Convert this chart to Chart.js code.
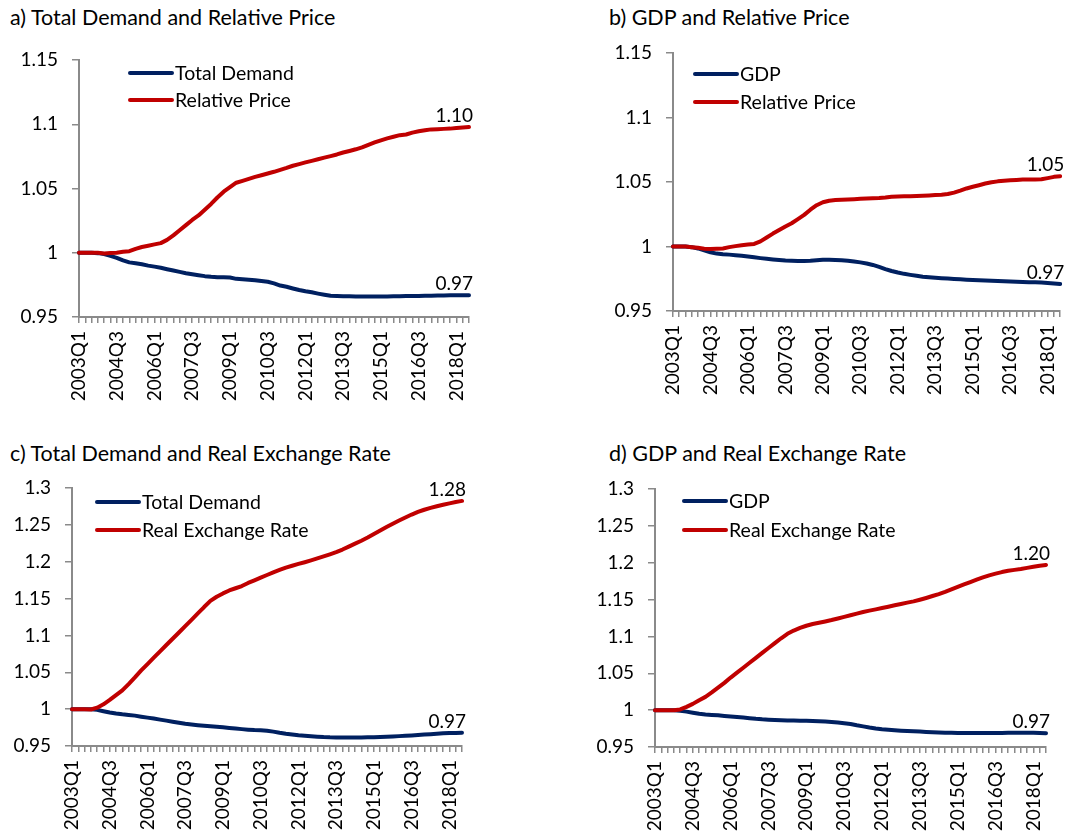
<!DOCTYPE html>
<html>
<head>
<meta charset="utf-8">
<script src="https://cdn.jsdelivr.net/npm/chart.js@4.4.1/dist/chart.umd.min.js"></script>
<style>
  body { margin: 0; background: #fff; }
  #page { position: relative; width: 1091px; height: 834px; overflow: hidden; font-family: Lato, sans-serif; }
  canvas { position: absolute; }
  .title { position: absolute; font-size: 21.5px; line-height: 1; color: #000; white-space: nowrap; }
</style>
</head>
<body>
<div id="page">
  <div class="title" style="left:10px;top:7px">a) Total Demand and Relative Price</div>
  <div class="title" style="left:609px;top:7px">b) GDP and Relative Price</div>
  <div class="title" style="left:10px;top:443px">c) Total Demand and Real Exchange Rate</div>
  <div class="title" style="left:609px;top:443px">d) GDP and Real Exchange Rate</div>
  <canvas id="chartA" width="545" height="417" style="left:0;top:0"></canvas>
  <canvas id="chartB" width="546" height="417" style="left:545px;top:0"></canvas>
  <canvas id="chartC" width="545" height="417" style="left:0;top:417px"></canvas>
  <canvas id="chartD" width="546" height="417" style="left:545px;top:417px"></canvas>
</div>
<script>
// quarters 2003Q1 .. 2018Q3
var quarters = [];
for (var y = 2003; y <= 2018; y++) {
  for (var q = 1; q <= 4; q++) {
    if (y === 2018 && q > 3) break;
    quarters.push(y + 'Q' + q);
  }
}

// a) Total Demand and Relative Price
var demandA = [1.000,1.000,1.000,0.9997,0.999,0.9975,0.996,0.994,0.9925,0.9918,0.991,0.990,0.9892,0.9883,0.9872,0.9862,0.9851,0.9841,0.9833,0.9825,0.9818,0.9813,0.981,0.981,0.9807,0.9797,0.9794,0.979,0.9786,0.978,0.9774,0.9762,0.9745,0.9735,0.9722,0.971,0.970,0.9692,0.9682,0.9673,0.9665,0.9663,0.9662,0.9661,0.966,0.966,0.966,0.966,0.966,0.966,0.9661,0.9662,0.9663,0.9663,0.9664,0.9665,0.9666,0.9667,0.9668,0.9669,0.967,0.967,0.967];
var priceA = [1.000,1.000,1.000,1.000,0.9995,0.9998,1.000,1.0008,1.0012,1.003,1.0045,1.0055,1.0065,1.0075,1.010,1.0135,1.0175,1.0215,1.0255,1.029,1.0335,1.038,1.043,1.0475,1.051,1.0545,1.056,1.0575,1.059,1.0603,1.0617,1.063,1.0645,1.066,1.0677,1.069,1.0703,1.0715,1.0728,1.074,1.0752,1.0765,1.078,1.0792,1.0805,1.082,1.084,1.0858,1.0875,1.089,1.0903,1.0915,1.092,1.0935,1.0945,1.0953,1.096,1.0962,1.0964,1.0966,1.097,1.0975,1.0978];

// b) GDP and Relative Price
var gdpB = [1.000,1.000,1.000,0.9995,0.9985,0.997,0.9955,0.9945,0.994,0.9937,0.9933,0.9928,0.9922,0.9916,0.991,0.9905,0.990,0.9895,0.9891,0.9889,0.9888,0.9888,0.9889,0.9893,0.9897,0.9897,0.9896,0.9894,0.989,0.9884,0.9877,0.9868,0.9857,0.9842,0.9825,0.981,0.9798,0.9788,0.978,0.9773,0.9766,0.9761,0.9757,0.9754,0.9751,0.9748,0.9746,0.9743,0.9741,0.9739,0.9737,0.9735,0.9733,0.9731,0.9728,0.9726,0.9724,0.9723,0.9722,0.972,0.9717,0.9713,0.971];
var priceB = [1.000,1.000,1.000,0.9995,0.999,0.9983,0.998,0.9982,0.9985,0.9995,1.0003,1.001,1.0015,1.002,1.004,1.007,1.010,1.0128,1.0155,1.018,1.0212,1.0245,1.0285,1.032,1.0343,1.0355,1.036,1.0362,1.0365,1.0367,1.037,1.0372,1.0374,1.0376,1.038,1.0386,1.0388,1.0389,1.039,1.0392,1.0394,1.0396,1.0399,1.0402,1.0407,1.0418,1.0433,1.045,1.0463,1.0475,1.0488,1.0498,1.0505,1.051,1.0513,1.0516,1.0519,1.052,1.052,1.0521,1.053,1.054,1.0545];

// c) Total Demand and Real Exchange Rate
var demandC = [1.000,1.000,1.000,0.9998,0.999,0.9972,0.9955,0.994,0.993,0.9922,0.9912,0.9898,0.9885,0.9872,0.9858,0.9844,0.983,0.9816,0.9802,0.9792,0.9783,0.9775,0.9768,0.9761,0.9753,0.9745,0.9737,0.9729,0.9722,0.9716,0.9712,0.9707,0.9695,0.968,0.9667,0.9656,0.9646,0.964,0.9633,0.9627,0.9621,0.9618,0.9617,0.9616,0.9616,0.9616,0.9617,0.9618,0.962,0.9622,0.9625,0.9629,0.9634,0.9639,0.9644,0.9649,0.9655,0.966,0.9666,0.9672,0.9676,0.9678,0.968];
var rerC = [1.000,1.000,1.000,0.9995,1.002,1.0065,1.0125,1.019,1.0255,1.034,1.043,1.0525,1.0612,1.0698,1.0785,1.087,1.0955,1.104,1.1127,1.1212,1.1298,1.1385,1.1468,1.1525,1.157,1.161,1.164,1.167,1.1712,1.1748,1.1785,1.182,1.1855,1.1888,1.192,1.1945,1.197,1.1993,1.2018,1.2045,1.2072,1.210,1.213,1.2165,1.2205,1.2245,1.2285,1.2328,1.2375,1.2422,1.247,1.2515,1.2558,1.260,1.264,1.2675,1.2705,1.273,1.2752,1.2772,1.2792,1.281,1.2825];

// d) GDP and Real Exchange Rate
var gdpD = [1.000,1.000,1.000,0.9997,0.999,0.998,0.9965,0.995,0.994,0.9935,0.993,0.9922,0.9915,0.9907,0.990,0.9891,0.9882,0.9875,0.987,0.9866,0.9863,0.9861,0.9859,0.9857,0.9855,0.9853,0.985,0.9845,0.984,0.9833,0.9823,0.9812,0.9795,0.978,0.9765,0.9752,0.9742,0.9735,0.9728,0.9722,0.9717,0.9713,0.9709,0.9705,0.9701,0.9697,0.9694,0.9692,0.9691,0.969,0.969,0.969,0.969,0.969,0.969,0.9691,0.9692,0.9693,0.9694,0.9694,0.9692,0.969,0.9688];
var rerD = [1.000,1.000,1.000,0.9998,1.001,1.0045,1.0085,1.0135,1.018,1.024,1.0305,1.037,1.0442,1.0508,1.0575,1.0643,1.071,1.0777,1.0843,1.091,1.0975,1.1035,1.108,1.1115,1.1145,1.1168,1.1185,1.1203,1.1222,1.1243,1.1265,1.1287,1.131,1.1332,1.135,1.1367,1.1385,1.1403,1.1422,1.144,1.1458,1.1476,1.1498,1.1522,1.1548,1.1575,1.1605,1.1638,1.1672,1.1705,1.1738,1.177,1.180,1.1828,1.1852,1.1873,1.189,1.1903,1.1915,1.193,1.1945,1.196,1.197];

var NAVY = '#002060';
var RED = '#C00000';
var AXIS = '#8a8a8a';
var FONT = 'Lato';

// legend drawn inside the plot, plus the end-value labels
var decor = {
  id: 'decor',
  afterDatasetsDraw: function(chart, args, opts) {
    var ctx = chart.ctx, area = chart.chartArea;
    ctx.save();
    ctx.fillStyle = '#000';
    ctx.font = '19px ' + FONT;
    chart.data.datasets.forEach(function(ds, i) {
      var meta = chart.getDatasetMeta(i);
      var pt = meta.data[meta.data.length - 1];
      ctx.textAlign = 'right';
      ctx.textBaseline = 'alphabetic';
      ctx.fillText(ds.data[ds.data.length - 1].toFixed(2), pt.x + 4, pt.y - 5);
    });
    ctx.font = '19.5px ' + FONT;
    chart.data.datasets.forEach(function(ds, i) {
      var x = area.left + opts.x, y = area.top + opts.y + i * opts.gap;
      ctx.strokeStyle = ds.borderColor;
      ctx.lineWidth = 4;
      ctx.lineCap = 'round';
      ctx.beginPath();
      ctx.moveTo(x, y);
      ctx.lineTo(x + 42, y);
      ctx.stroke();
      ctx.textAlign = 'left';
      ctx.textBaseline = 'middle';
      ctx.fillText(ds.label, x + 45, y + 1);
    });
    ctx.restore();
  }
};

function makeChart(id, box, series, yMax, legendPos) {
  var canvas = document.getElementById(id);
  return new Chart(canvas, {
    type: 'line',
    data: {
      labels: quarters,
      datasets: [
        { label: series[0].label, data: series[0].data, borderColor: NAVY, order: 1 },
        { label: series[1].label, data: series[1].data, borderColor: RED, order: 0 }
      ]
    },
    options: {
      responsive: false,
      animation: false,
      layout: { padding: { left: 0, top: box.top, right: canvas.width - box.right, bottom: 0 } },
      elements: {
        point: { radius: 0 },
        line: { borderWidth: 4, tension: 0, borderCapStyle: 'round', borderJoinStyle: 'round' }
      },
      plugins: {
        legend: { display: false },
        tooltip: { enabled: false },
        decor: legendPos
      },
      scales: {
        x: {
          offset: false,
          afterFit: function(s) { s.height = canvas.height - box.bottom; },
          grid: { drawOnChartArea: false, color: AXIS, lineWidth: 1.5, tickLength: 6 },
          border: { color: AXIS, width: 2 },
          ticks: {
            autoSkip: false, minRotation: 90, maxRotation: 90, padding: 8,
            color: '#000', font: { family: FONT, size: 19 },
            callback: function(v, i) { return i % 6 === 0 ? this.getLabelForValue(v) : ''; }
          }
        },
        y: {
          min: 0.95, max: yMax,
          afterFit: function(s) { s.width = box.left; },
          grid: { drawOnChartArea: false, color: AXIS, lineWidth: 1.5, tickLength: 7 },
          border: { color: AXIS, width: 2 },
          ticks: {
            stepSize: 0.05, padding: 14,
            color: '#000', font: { family: FONT, size: 19 },
            callback: function(v) { return String(Number(v.toFixed(2))); }
          }
        }
      }
    },
    plugins: [decor]
  });
}

makeChart('chartA', { left: 79, top: 60, right: 469, bottom: 317 },
  [{ label: 'Total Demand', data: demandA }, { label: 'Relative Price', data: priceA }], 1.15,
  { x: 51, y: 13, gap: 27 });
makeChart('chartB', { left: 128, top: 53, right: 517, bottom: 311 },
  [{ label: 'GDP', data: gdpB }, { label: 'Relative Price', data: priceB }], 1.15,
  { x: 22, y: 21, gap: 28 });
makeChart('chartC', { left: 72, top: 71, right: 462, bottom: 329 },
  [{ label: 'Total Demand', data: demandC }, { label: 'Real Exchange Rate', data: rerC }], 1.3,
  { x: 25, y: 14, gap: 28 });
makeChart('chartD', { left: 110, top: 72, right: 501, bottom: 330 },
  [{ label: 'GDP', data: gdpD }, { label: 'Real Exchange Rate', data: rerD }], 1.3,
  { x: 29, y: 12, gap: 29 });
</script>
</body>
</html>
